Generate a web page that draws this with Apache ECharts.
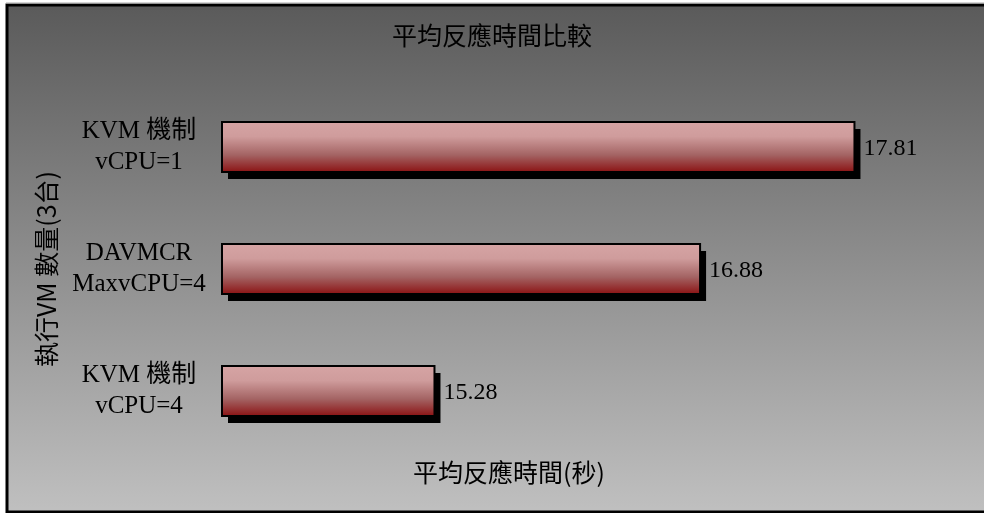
<!DOCTYPE html>
<html>
<head>
<meta charset="utf-8">
<script src="https://cdn.jsdelivr.net/npm/echarts@6/dist/echarts.min.js"></script>
<style>
  html, body { margin: 0; padding: 0; background: #fff; }
  #main { width: 984px; height: 513px; }
</style>
</head>
<body>
<div id="main"></div>
<script>
// categories top to bottom
const categories = ['KVM 機制\nvCPU=1', 'DAVMCR\nMaxvCPU=4', 'KVM 機制\nvCPU=4']
const responseTimes = [17.81, 16.88, 15.28]

const titleText = '平均反應時間比較'
const xName = '平均反應時間(秒)'
const yName = '執行VM 數量(3台)'
const xMin = 14
const xMax = 18

const serif = "'Liberation Serif', 'Noto Sans CJK TC', serif"
const cjk = "'Noto Sans CJK TC', 'Liberation Serif', sans-serif"

const barFill = {
  type: 'linear', x: 0, y: 0, x2: 0, y2: 1,
  colorStops: [
    { offset: 0, color: '#d6a4a4' },
    { offset: 0.3, color: '#cf9c9c' },
    { offset: 0.65, color: '#a46464' },
    { offset: 1, color: '#8a0f10' }
  ]
}

// bar with hard drop shadow behind it and value text to the right
const renderBar = (params, api) => {
  const val = api.value(0)
  const start = api.coord([xMin, api.value(1)])
  const end = api.coord([val, api.value(1)])
  const h = api.size([0, 1])[1] * 0.41
  const x = start[0]
  const y = start[1] - h / 2
  const w = end[0] - start[0]
  return {
    type: 'group',
    children: [
      { type: 'rect', shape: { x: x + 6, y: y + 7, width: w, height: h }, style: { fill: '#000' } },
      { type: 'rect', shape: { x, y, width: w, height: h }, style: { fill: barFill, stroke: '#000', lineWidth: 2 } },
      {
        type: 'text',
        style: {
          text: val.toFixed(2),
          x: end[0] + 9,
          y: end[1] + 2,
          verticalAlign: 'middle',
          fill: '#000',
          font: '24px ' + serif
        }
      }
    ]
  }
}

const chart = echarts.init(document.getElementById('main'))

chart.setOption({
  backgroundColor: '#fff',
  animation: false,
  graphic: [
    {
      type: 'rect',
      z: -10,
      silent: true,
      shape: { x: 7, y: 5, width: 1000, height: 507 },
      style: {
        fill: new echarts.graphic.LinearGradient(0, 0, 0, 1, [
          { offset: 0, color: '#5a5a5a' },
          { offset: 1, color: '#c0c0c0' }
        ]),
        stroke: '#000',
        lineWidth: 3
      }
    },
    {
      type: 'line',
      z: -10,
      silent: true,
      shape: { x1: 6, y1: 3, x2: 984, y2: 3 },
      style: { stroke: '#a8a8a8', lineWidth: 1 }
    }
  ],
  title: [
    {
      text: titleText,
      left: 'center',
      top: 18,
      textStyle: { fontFamily: cjk, fontSize: 25, fontWeight: 'normal', color: '#000' }
    },
    {
      text: xName,
      left: 408,
      top: 455,
      textStyle: { fontFamily: cjk, fontSize: 25, fontWeight: 'normal', color: '#000' }
    }
  ],
  grid: { left: 222, right: 98, top: 86, bottom: 61 },
  xAxis: {
    type: 'value',
    min: xMin,
    max: xMax,
    interval: 1,
    axisLine: { show: false },
    axisTick: { show: false },
    axisLabel: { show: false },
    splitLine: { show: false }
  },
  yAxis: {
    type: 'category',
    inverse: true,
    data: categories,
    name: yName,
    nameLocation: 'middle',
    nameGap: 163,
    nameRotate: 90,
    nameTextStyle: { fontFamily: cjk, fontSize: 25, color: '#000' },
    axisLine: { show: false },
    axisTick: { show: false },
    axisLabel: {
      align: 'center',
      margin: 83,
      fontFamily: serif,
      fontSize: 25,
      lineHeight: 31,
      padding: [5, 0, 0, 0],
      color: '#000'
    }
  },
  series: [
    {
      type: 'custom',
      renderItem: renderBar,
      encode: { x: 0, y: 1 },
      data: responseTimes.map((v, i) => [v, i])
    }
  ]
})
</script>
</body>
</html>
